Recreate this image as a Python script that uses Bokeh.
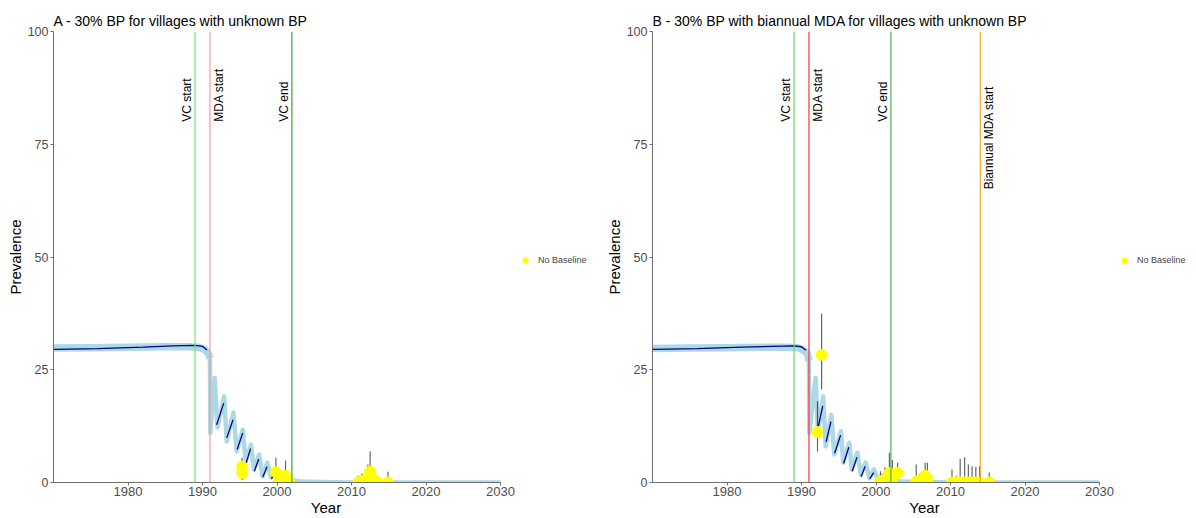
import math
from bokeh.plotting import figure
from bokeh.layouts import row
from bokeh.models import Span, Legend, LegendItem, FixedTicker, Range1d
from bokeh.core.properties import value
from bokeh.embed import file_html
from bokeh.resources import INLINE

NaN = float("nan")

# ---------------- data ----------------
TITLE_A = "A - 30% BP for villages with unknown BP"
TITLE_B = "B - 30% BP with biannual MDA for villages with unknown BP"

x_ticks = [1980, 1990, 2000, 2010, 2020, 2030]
y_ticks = [0, 25, 50, 75, 100]
x_start, x_end = 1970, 2030

# model runs envelope (light blue) panel A
A_band_year = [1970, 1975, 1980, 1985, 1988, 1989.5, 1990.3, 1990.8, 1991.0, 1991.05, 1991.64, 1992.0,
               1992.9, 1993.25, 1994.15, 1994.6, 1995.4, 1995.8, 1996.5, 1996.9, 1997.6, 1998.05,
               1998.7, 1999.2, 1999.8, 2000.3, 2000.95, 2001.4, 2002.0, 2003, 2006, 2010, 2030]
A_band_prev = [29.8, 29.9, 30.0, 30.1, 30.1, 30.0, 29.5, 28.5, 27.5, 11.0, 23.2, 12.2,
               19.1, 9.1, 15.5, 6.9, 11.7, 4.7, 8.4, 2.9, 6.2, 1.4,
               4.4, 1.1, 2.9, 0.3, 1.8, 0.2, 0.6, 0.2, 0.1, 0.0, 0.0]
# mean run (dark blue) panel A
A_mean_year = [1970, 1976, 1982, 1986, 1989, 1990.0, 1990.6, NaN, 1991.9, 1992.85, NaN, 1993.25, 1994.1, NaN,
               1994.65, 1995.4, NaN, 1995.85, 1996.45, NaN, 1996.95, 1997.55, NaN, 1998.1, 1998.65, NaN,
               1999.25, 1999.75, NaN, 2000.35, 2000.9, NaN, 2001.3, 2002.5]
A_mean_prev = [29.5, 29.7, 30.0, 30.3, 30.4, 30.2, 29.4, NaN, 12.8, 17.6, NaN, 9.9, 13.9, NaN,
               7.3, 11.0, NaN, 4.3, 7.5, NaN, 2.5, 5.2, NaN, 1.2, 3.5, NaN,
               0.8, 2.3, NaN, 0.3, 1.3, NaN, 0.4, 0.1]
# observed villages panel A
A_obs_year = [1995.3, 1995.35, 1999.85, 2001.15, 2000.2, 2001.7, 2010.9, 2011.4, 2011.9, 2012.2, 2012.5,
              2012.8, 2013.2, 2013.5, 2014.9]
A_obs_prev = [3.5, 2.1, 2.3, 1.5, 0.0, 0.0, 0.0, 0.2, 0.6, 1.2, 2.4, 0.9, 0.3, 0.0, 0.0]
A_obs_lo = [1.5, 0.5, 0.5, 0.3, 0.0, 0.0, 0.0, 0.0, 0.0, 0.3, 1.0, 0.2, 0.0, 0.0, 0.0]
A_obs_hi = [5.5, 4.5, 5.5, 4.9, 0.8, 0.8, 1.5, 2.0, 2.8, 4.0, 6.9, 2.9, 2.2, 1.0, 2.4]

# panel B
B_band_year = [1970, 1975, 1980, 1985, 1988, 1989.5, 1990.3, 1990.8, 1991.0, 1991.05, 1991.9, 1992.2,
               1992.9, 1993.25, 1994.0, 1994.4, 1995.3, 1995.6, 1996.4, 1996.75, 1997.5, 1997.95,
               1998.6, 1999.1, 1999.75, 2000.2, 2000.9, 2001.4, 2002.0, 2003, 2006, 2010, 2030]
B_band_prev = [29.7, 29.8, 29.9, 30.0, 30.0, 29.9, 29.3, 28.5, 27.0, 11.0, 23.2, 11.0,
               19.1, 8.0, 15.0, 6.2, 11.4, 4.4, 8.8, 2.9, 6.6, 1.8,
               4.4, 1.0, 2.9, 0.7, 1.6, 0.3, 0.5, 0.2, 0.1, 0.0, 0.0]
B_mean_year = [1970, 1976, 1982, 1986, 1989, 1990.0, 1990.6, NaN, 1992.2, 1992.85, NaN, 1993.3, 1993.95, NaN,
               1994.45, 1995.25, NaN, 1995.65, 1996.35, NaN, 1996.8, 1997.45, NaN, 1998.0, 1998.55, NaN,
               1999.15, 1999.7, NaN, 2000.25, 2000.85, NaN, 2001.3, 2002.5]
B_mean_prev = [29.5, 29.7, 30.0, 30.2, 30.3, 30.1, 29.3, NaN, 12.0, 17.0, NaN, 9.0, 13.5, NaN,
               6.5, 10.5, NaN, 4.2, 7.8, NaN, 2.5, 5.6, NaN, 1.3, 3.6, NaN,
               0.8, 2.2, NaN, 0.4, 1.3, NaN, 0.3, 0.1]
B_obs_year = [1992.7, 1992.15, 2000.6, 2001.2, 2001.8, 2002.2, 2002.9, 2005.4, 2005.9, 2006.6, 2006.9,
              2010.2, 2010.8, 2011.3, 2011.9, 2012.4, 2012.9, 2013.4, 2013.9, 2015.2]
B_obs_prev = [28.3, 11.2, 0.3, 0.5, 2.1, 1.0, 2.1, 0.3, 0.0, 1.5, 0.8,
              0.0, 0.0, 0.0, 0.0, 0.0, 0.0, 0.0, 0.0, 0.0]
B_obs_lo = [20.6, 6.9, 0.0, 0.0, 0.5, 0.0, 0.5, 0.0, 0.0, 0.3, 0.0,
            0.0, 0.0, 0.0, 0.0, 0.0, 0.0, 0.0, 0.0, 0.0]
B_obs_hi = [37.5, 18.0, 2.5, 3.3, 6.6, 5.0, 4.4, 4.0, 2.0, 4.4, 4.4,
            2.9, 1.5, 5.2, 5.6, 4.0, 3.6, 3.5, 3.6, 2.2]

# intervention markers
A_events = ["VC start", "MDA start", "VC end"]
A_event_year = [1989, 1991, 2002]
B_events = ["VC start", "MDA start", "VC end", "Biannual MDA start"]
B_event_year = [1989, 1991, 2002, 2014]
A_label_prev = [80, 80, 80]
B_label_prev = [80, 80, 80, 65]

# --------------- styles ---------------
FONT = "Liberation Sans"
EVENT_STYLE_A = [("#66ee66", 1.0, "left"), ("#ff8a8a", 0.85, "right"), ("#3fa03f", 1.0, "left")]
EVENT_STYLE_B = [("#66dd66", 1.0, "left"), ("#ff3333", 1.0, "right"), ("#4caf50", 1.0, "left"),
                 ("#f5a623", 1.0, "right")]
FIG_W, FIG_H = 598, 518
DATA_W = 447            # pixel width of the 1970-2030 span
N_PRE = 9               # points of the pre-MDA plateau in the envelope arrays


def make_panel(title, band_x, band_y, mean_x, mean_y, ox, oy, olo, ohi,
               events, ev_years, lab_y, styles, left_border):
    frame_w = FIG_W - left_border
    px_per_year = DATA_W / (x_end - x_start)
    p = figure(width=FIG_W, height=FIG_H, output_backend="svg", toolbar_location=None,
               x_range=Range1d(x_start, x_start + frame_w / px_per_year), y_range=Range1d(0, 100),
               min_border_left=left_border, min_border_right=0,
               min_border_top=31, min_border_bottom=35)
    p.outline_line_color = None
    p.xgrid.visible = False
    p.ygrid.visible = False
    p.background_fill_color = "white"
    p.border_fill_color = "white"

    p.title.text = title
    p.title.text_font = FONT
    p.title.text_font_size = "14px"
    p.title.text_font_style = "normal"
    p.title.text_color = "black"
    p.title.align = "left"
    p.title.offset = 0
    p.title.standoff = 5

    for ax in (p.xaxis[0], p.yaxis[0]):
        ax.axis_line_color = "#6f6f6f"
        ax.major_tick_line_color = "#6f6f6f"
        ax.major_tick_out = 3
        ax.major_tick_in = 0
        ax.minor_tick_line_color = None
        ax.major_label_text_font = FONT
        ax.major_label_text_color = "#4d4d4d"
        ax.axis_label_text_font = FONT
        ax.axis_label_text_font_size = "15px"
        ax.axis_label_text_font_style = "normal"
        ax.axis_label_text_color = "black"
    p.xaxis[0].major_label_text_font_size = "13px"
    p.yaxis[0].major_label_text_font_size = "12.5px"
    p.xaxis[0].major_label_standoff = 1
    p.xaxis[0].axis_label_standoff = 0
    p.yaxis[0].major_label_standoff = 2
    p.yaxis[0].axis_label_standoff = 1
    p.xaxis[0].bounds = (x_start, x_end)
    p.xaxis[0].ticker = FixedTicker(ticks=x_ticks)
    p.yaxis[0].ticker = FixedTicker(ticks=y_ticks)
    p.xaxis[0].axis_label = "Year"
    p.yaxis[0].axis_label = "Prevalence"

    p.line(band_x[:N_PRE], band_y[:N_PRE], line_color="#add8e6", line_width=7.5, line_join="round")
    p.line(band_x[N_PRE - 1:], band_y[N_PRE - 1:], line_color="#add8e6", line_width=4.5,
           line_join="round")
    p.line(mean_x, mean_y, line_color="#00008b", line_width=1.3)

    for i, (name, yr) in enumerate(zip(events, ev_years)):
        col, alpha, side = styles[i]
        p.add_layout(Span(location=yr, dimension="height", line_color=col,
                          line_alpha=alpha, line_width=1.2))
        p.text(x=[yr], y=[lab_y[i]], text=[name], angle=math.pi / 2,
               text_align="left",
               text_baseline="bottom" if side == "left" else "top",
               x_offset=-1 if side == "left" else 2,
               text_font=value(FONT), text_font_size="12px", text_color="black")

    p.segment(x0=ox, y0=olo, x1=ox, y1=ohi, line_color="black", line_alpha=0.6, line_width=1.2)
    r = p.scatter(ox, oy, size=11, fill_color="yellow", line_color="yellow")

    leg = Legend(items=[LegendItem(label="No Baseline", renderers=[r])],
                 location=(465, 215), border_line_color=None, background_fill_alpha=0,
                 label_text_font=FONT, label_text_font_size="9px", glyph_width=14,
                 glyph_height=14, label_standoff=6, padding=0, margin=0,
                 label_height=14)
    p.add_layout(leg, "center")
    return p


pA = make_panel(TITLE_A, A_band_year, A_band_prev, A_mean_year, A_mean_prev,
                A_obs_year, A_obs_prev, A_obs_lo, A_obs_hi,
                A_events, A_event_year, A_label_prev, EVENT_STYLE_A, 53)
pB = make_panel(TITLE_B, B_band_year, B_band_prev, B_mean_year, B_mean_prev,
                B_obs_year, B_obs_prev, B_obs_lo, B_obs_hi,
                B_events, B_event_year, B_label_prev, EVENT_STYLE_B, 54)

layout = row(pA, pB)
open("out.html", "w").write(file_html(layout, INLINE))
